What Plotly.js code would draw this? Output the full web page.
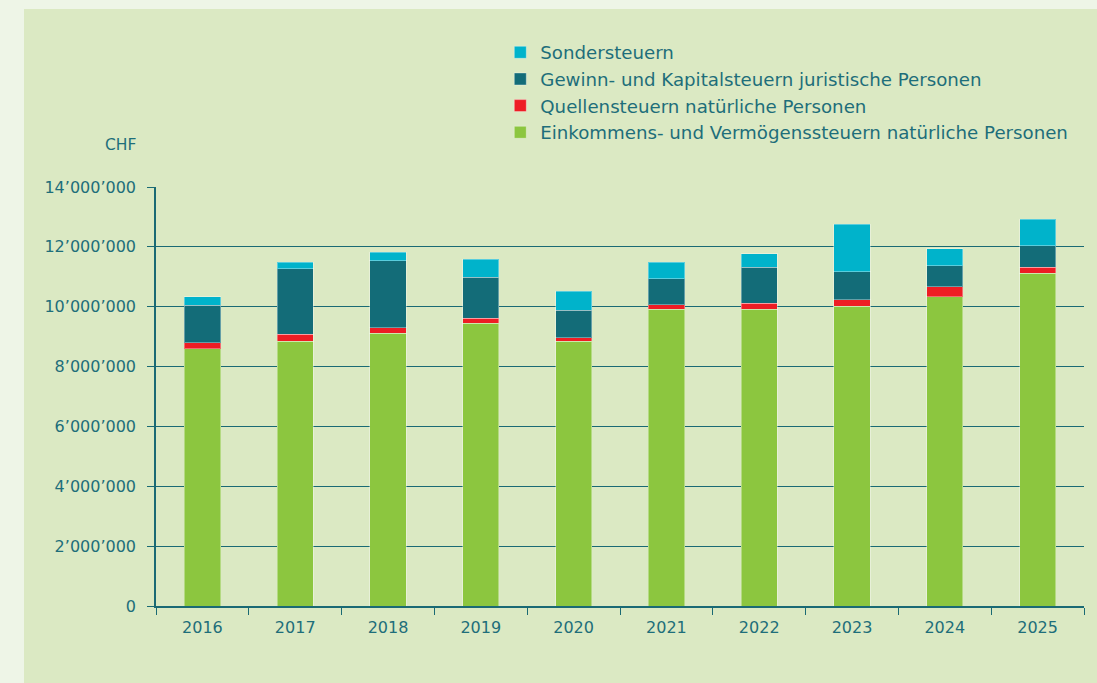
<!DOCTYPE html>
<html>
<head>
<meta charset="utf-8">
<script src="https://cdn.plot.ly/plotly-3.0.1.min.js"></script>
<style>
  html, body { margin: 0; padding: 0; background: #eef5e7; width: 1097px; height: 683px; overflow: hidden; }
  #chart { position: absolute; left: 24px; top: 9px; width: 1073px; height: 674px; }
</style>
</head>
<body>
<div id="chart"></div>
<script>
const years = ['2016','2017','2018','2019','2020','2021','2022','2023','2024','2025'];
const einkommen = [8590000, 8850000, 9120000, 9450000, 8850000, 9910000, 9910000, 10020000, 10340000, 11110000];
const quellen   = [210000, 230000, 180000, 170000, 120000, 150000, 210000, 220000, 320000, 210000];
const gewinn    = [1250000, 2190000, 2230000, 1370000, 920000, 870000, 1200000, 930000, 710000, 720000];
const sonder    = [290000, 220000, 290000, 600000, 620000, 560000, 450000, 1580000, 560000, 880000];
const yTickVals = [0, 2000000, 4000000, 6000000, 8000000, 10000000, 12000000, 14000000];
const yTickText = ['0', '2\u2019000\u2019000', '4\u2019000\u2019000', '6\u2019000\u2019000', '8\u2019000\u2019000', '10\u2019000\u2019000', '12\u2019000\u2019000', '14\u2019000\u2019000'];

const names = [
  'Einkommens- und Vermögenssteuern natürliche Personen',
  'Quellensteuern natürliche Personen',
  'Gewinn- und Kapitalsteuern juristische Personen',
  'Sondersteuern'
];
const series = [einkommen, quellen, gewinn, sonder];
const colors = ['#8cc63f', '#ee1d24', '#136c78', '#00b3cb'];

const traces = series.map((s, i) => ({
  type: 'bar',
  x: years,
  y: s,
  name: names[i],
  marker: { color: colors[i], line: { color: 'rgba(255,255,255,0.35)', width: 1 } },
  hoverinfo: 'x+y+name'
}));

const txt = '#1e6e7a';
const layout = {
  barmode: 'stack',
  bargap: 0.61,
  paper_bgcolor: '#dbe9c3',
  plot_bgcolor: '#dbe9c3',
  margin: { l: 132, r: 13, t: 178, b: 77 },
  font: { family: 'DejaVu Sans, sans-serif', color: txt, size: 16 },
  showlegend: true,
  legend: {
    traceorder: 'reversed',
    x: 0.371, xanchor: 'left',
    y: 1.086, yanchor: 'bottom',
    bgcolor: 'rgba(0,0,0,0)',
    font: { family: 'DejaVu Sans, sans-serif', size: 18.2, color: txt },
    itemwidth: 30,
    tracegroupgap: 0
  },
  xaxis: {
    type: 'category',
    tickson: 'boundaries',
    ticks: 'outside',
    ticklen: 7,
    tickcolor: '#1a6a74',
    showline: true,
    linecolor: '#1a6a74',
    linewidth: 1.5,
    showgrid: false,
    tickfont: { size: 16, color: txt },
    ticklabelstandoff: 6,
    fixedrange: true
  },
  yaxis: {
    range: [0, 14000000],
    tickvals: yTickVals,
    ticktext: yTickText,
    ticks: 'outside',
    ticklen: 7,
    tickcolor: '#1a6a74',
    showline: true,
    linecolor: '#1a6a74',
    linewidth: 1.5,
    gridcolor: '#1a6a74',
    gridwidth: 1.3,
    zeroline: false,
    tickfont: { size: 16, color: txt },
    ticklabelstandoff: 8,
    fixedrange: true
  },
  annotations: [{
    text: 'CHF', xref: 'paper', yref: 'paper',
    x: -0.0194, y: 1.100, xanchor: 'right', yanchor: 'middle',
    showarrow: false, font: { size: 15.5, color: txt }
  }]
};

Plotly.newPlot('chart', traces, layout, { displayModeBar: false });
</script>
</body>
</html>
